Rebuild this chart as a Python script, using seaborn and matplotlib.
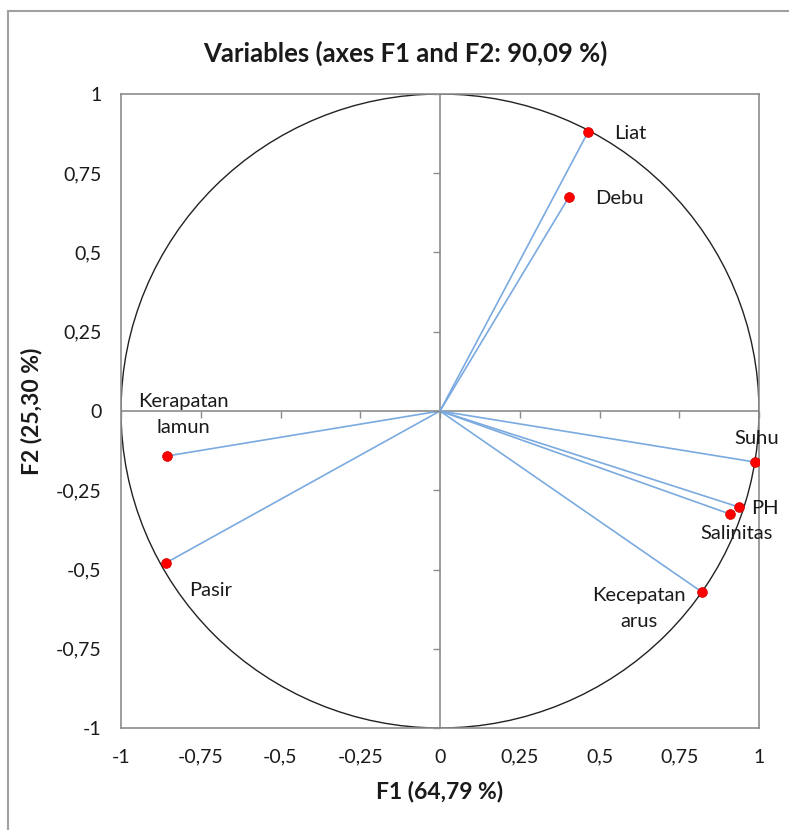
import numpy as np
import pandas as pd
import matplotlib
matplotlib.use("Agg")
import matplotlib.pyplot as plt
from matplotlib.patches import Circle, Rectangle
import seaborn as sns

# ---- data ----
variables = ["Liat", "Debu", "Kerapatan\nlamun", "Pasir", "Suhu", "PH", "Salinitas", "Kecepatan\narus"]
f1 = [0.464, 0.404, -0.856, -0.859, 0.987, 0.937, 0.909, 0.821]
f2 = [0.880, 0.675, -0.142, -0.479, -0.161, -0.303, -0.325, -0.571]
tick_vals = [-1, -0.75, -0.5, -0.25, 0, 0.25, 0.5, 0.75, 1]
tick_labels = ["-1", "-0,75", "-0,5", "-0,25", "0", "0,25", "0,5", "0,75", "1"]
title = "Variables (axes F1 and F2: 90,09 %)"
xlabel = "F1 (64,79 %)"
ylabel = "F2 (25,30 %)"

# label offsets in points (style)
offsets = {
    "Liat": (19, -1, "left", "center"),
    "Debu": (19, -1, "left", "center"),
    "Kerapatan\nlamun": (12, 30, "center", "center"),
    "Pasir": (17, -20, "left", "center"),
    "Suhu": (1, 17, "center", "center"),
    "PH": (9, -1, "left", "center"),
    "Salinitas": (5, -14, "center", "center"),
    "Kecepatan\narus": (-45, -12, "center", "center"),
}

sns.set_theme(style="white")
plt.rcParams["font.family"] = ["Lato", "DejaVu Sans"]

W, H = 789, 830
fig = plt.figure(figsize=(W / 100, H / 100), dpi=100)
fig.patch.set_facecolor("white")

# outer border
fig.patches.append(Rectangle((8 / W, -0.1), 1.1, (H - 11) / H + 0.1, transform=fig.transFigure,
                             fill=False, edgecolor="#a0a0a0", linewidth=1.5, zorder=0))

pos = [121 / W, (H - 728) / H, (759 - 121) / W, (728 - 94) / H]
ax = fig.add_axes(pos)

# lines origin -> point
rows = []
for v, x, y in zip(variables, f1, f2):
    rows.append({"var": v, "order": 0, "F1": 0.0, "F2": 0.0})
    rows.append({"var": v, "order": 1, "F1": x, "F2": y})
lines_df = pd.DataFrame(rows)
pts_df = pd.DataFrame({"var": variables, "F1": f1, "F2": f2})

ax.add_patch(Circle((0, 0), 1, fill=False, edgecolor="#222222", linewidth=1.0, zorder=2))
ax.axhline(0, color="#8c8c8c", linewidth=1.2, zorder=1)
ax.axvline(0, color="#8c8c8c", linewidth=1.2, zorder=1)

sns.lineplot(data=lines_df, x="F1", y="F2", units="var", estimator=None, sort=False,
             color="#7aaae0", linewidth=1.2, ax=ax, zorder=3)
sns.scatterplot(data=pts_df, x="F1", y="F2", color="#ff0000", s=50, edgecolor="#d00000",
                linewidth=0.5, ax=ax, zorder=4)

for v, x, y in zip(variables, f1, f2):
    dx, dy, ha, va = offsets[v]
    ax.annotate(v, (x, y), xytext=(dx, dy), textcoords="offset points", ha=ha, va=va,
                fontsize=14.5, color="#1a1a1a", linespacing=1.65, zorder=5)

ax.set_xlim(-1, 1)
ax.set_ylim(-1, 1)
ax.set_xticks(tick_vals)
ax.set_xticklabels(tick_labels)
ax.set_yticks(tick_vals)
ax.set_yticklabels(tick_labels)
ax.tick_params(axis="both", length=0, labelsize=14, colors="#1a1a1a")
ax.tick_params(axis="x", pad=15)
ax.tick_params(axis="y", pad=14)
for s in ax.spines.values():
    s.set_color("#8c8c8c")
    s.set_linewidth(1.2)
ax.set_xlabel(xlabel, fontsize=16.5, fontweight="bold", color="#1a1a1a", labelpad=11)
ax.set_ylabel(ylabel, fontsize=16.5, fontweight="bold", color="#1a1a1a", labelpad=10)

# overlay axes for center-line tick marks
ax2 = fig.add_axes(pos, sharex=ax, sharey=ax)
ax2.patch.set_visible(False)
for k in ["top", "right"]:
    ax2.spines[k].set_visible(False)
ax2.spines["left"].set_position("zero")
ax2.spines["bottom"].set_position("zero")
ax2.spines["left"].set_visible(False)
ax2.spines["bottom"].set_visible(False)
ax2.tick_params(axis="both", direction="out", length=5, width=1.0, color="#8c8c8c",
                labelleft=False, labelbottom=False, left=True, bottom=True)
ax2.set_xlabel("")
ax2.set_ylabel("")

fig.text(405 / W, 1 - 53 / H, title, ha="center", va="center", fontsize=18.5,
         fontweight="bold", color="#1a1a1a")

fig.savefig("out.png", dpi=100)
